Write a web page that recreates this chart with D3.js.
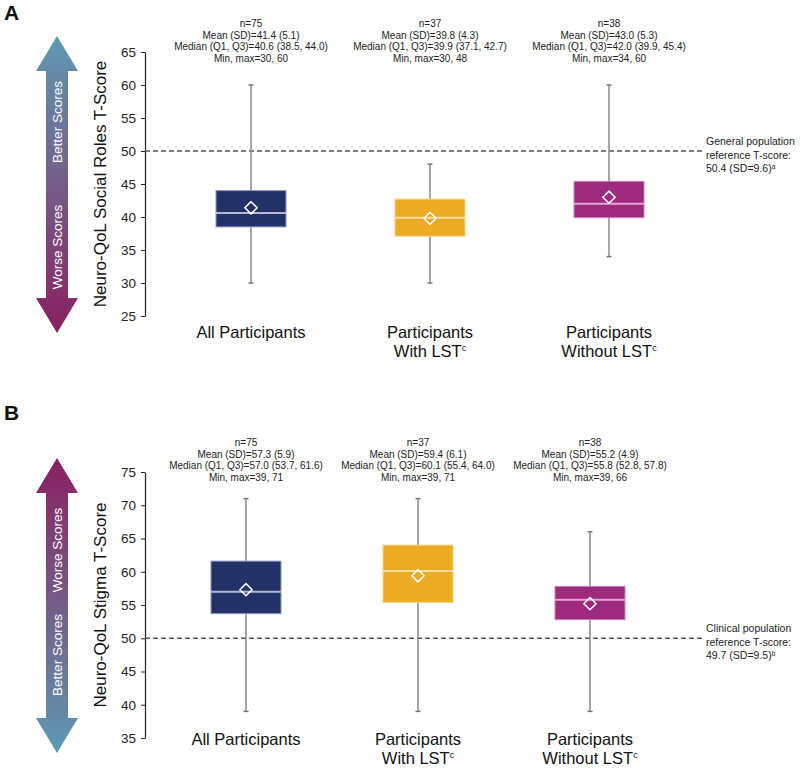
<!DOCTYPE html>
<html><head><meta charset="utf-8">
<script src="https://cdn.jsdelivr.net/npm/d3@7"></script>
<style>body{margin:0;background:#fff;} svg{display:block;font-family:"Liberation Sans",Arial,sans-serif;}</style>
</head><body>
<svg id="chart" width="800" height="771"></svg>
<script>
// ---------- data ----------
const groupLine1 = ["All Participants", "Participants", "Participants"];
const groupLine2 = ["", "With LST", "Without LST"];
const groupSup = ["", "c", "c"];
const boxColors = ["#233266", "#ebab22", "#9d2a7c"];
const medianColors = ["#b4b9d2", "#f7dfa4", "#e3a6d3"];
const borderColors = ["#8f97bd", "#f3cf80", "#cf7fbd"];

const socialN = [75, 37, 38];
const socialMean = [41.4, 39.8, 43.0];
const socialSD = [5.1, 4.3, 5.3];
const socialMedian = [40.6, 39.9, 42.0];
const socialQ1 = [38.5, 37.1, 39.9];
const socialQ3 = [44.0, 42.7, 45.4];
const socialMin = [30, 30, 34];
const socialMax = [60, 48, 60];
const socialTicks = [25, 30, 35, 40, 45, 50, 55, 60, 65];
const socialRef = 50;
const socialRefText = ["General population", "reference T-score:", "50.4 (SD=9.6)"];
const socialRefSup = "a";

const stigmaN = [75, 37, 38];
const stigmaMean = [57.3, 59.4, 55.2];
const stigmaSD = [5.9, 6.1, 4.9];
const stigmaMedian = [57.0, 60.1, 55.8];
const stigmaQ1 = [53.7, 55.4, 52.8];
const stigmaQ3 = [61.6, 64.0, 57.8];
const stigmaMin = [39, 39, 39];
const stigmaMax = [71, 71, 66];
const stigmaTicks = [35, 40, 45, 50, 55, 60, 65, 70, 75];
const stigmaRef = 50;
const stigmaRefText = ["Clinical population", "reference T-score:", "49.7 (SD=9.5)"];
const stigmaRefSup = "b";

// ---------- drawing ----------
const svg = d3.select("#chart");
const defs = svg.append("defs");
function grad(id, c1, c2) {
  const g = defs.append("linearGradient").attr("id", id).attr("x1", 0).attr("y1", 0).attr("x2", 0).attr("y2", 1);
  g.append("stop").attr("offset", "0%").attr("stop-color", c1);
  g.append("stop").attr("offset", "100%").attr("stop-color", c2);
}
grad("gA", "#5f9ab2", "#8a1f60");
grad("gB", "#8a1f60", "#5f9ab2");

const panels = [
  {label: "A", labelY: 20, title: "Neuro-QoL Social Roles T-Score",
   n: socialN, mean: socialMean, sd: socialSD, median: socialMedian, q1: socialQ1, q3: socialQ3, min: socialMin, max: socialMax,
   ticks: socialTicks, ref: socialRef, refText: socialRefText, refSup: socialRefSup,
   yRange: [316, 52], xRange: [251, 609], headerY: 27, catY: 338,
   arrow: {top: 36, bottom: 333, grad: "gA", topText: "Better Scores", botText: "Worse Scores", topTextY: 122, botTextY: 247}},
  {label: "B", labelY: 420, title: "Neuro-QoL Stigma T-Score",
   n: stigmaN, mean: stigmaMean, sd: stigmaSD, median: stigmaMedian, q1: stigmaQ1, q3: stigmaQ3, min: stigmaMin, max: stigmaMax,
   ticks: stigmaTicks, ref: stigmaRef, refText: stigmaRefText, refSup: stigmaRefSup,
   yRange: [738, 472], xRange: [246, 590], headerY: 446, catY: 745,
   arrow: {top: 458, bottom: 753, grad: "gB", topText: "Worse Scores", botText: "Better Scores", topTextY: 550, botTextY: 655}}
];

const axisX = 145;
const boxW = 70;
const fmt = d3.format(".1f");

panels.forEach(p => {
  const g = svg.append("g");
  const idx = d3.range(groupLine1.length);
  const y = d3.scaleLinear().domain(d3.extent(p.ticks)).range(p.yRange);
  const x = d3.scalePoint().domain(idx).range(p.xRange);

  // panel letter
  g.append("text").attr("x", 4).attr("y", p.labelY).attr("font-size", 21).attr("font-weight", "bold").attr("fill", "#111").text(p.label);

  // arrow
  const a = p.arrow, cx = 57, hw = 21, sw = 11, hh = 35;
  const path = d3.path();
  path.moveTo(cx, a.top);
  path.lineTo(cx + hw, a.top + hh);
  path.lineTo(cx + sw, a.top + hh);
  path.lineTo(cx + sw, a.bottom - hh);
  path.lineTo(cx + hw, a.bottom - hh);
  path.lineTo(cx, a.bottom);
  path.lineTo(cx - hw, a.bottom - hh);
  path.lineTo(cx - sw, a.bottom - hh);
  path.lineTo(cx - sw, a.top + hh);
  path.lineTo(cx - hw, a.top + hh);
  path.closePath();
  g.append("path").attr("d", path.toString()).attr("fill", `url(#${a.grad})`);
  [[a.topText, a.topTextY], [a.botText, a.botTextY]].forEach(([t, ty]) => {
    g.append("text").attr("transform", `translate(${cx + 5},${ty}) rotate(-90)`)
      .attr("text-anchor", "middle").attr("font-size", 13.5).attr("fill", "#fff").text(t);
  });

  // y axis
  const axis = d3.axisLeft(y).tickValues(p.ticks).tickSize(4).tickSizeOuter(0).tickFormat(d3.format("d"));
  const ag = g.append("g").attr("transform", `translate(${axisX},0)`).call(axis);
  ag.select(".domain").attr("stroke", "#222").attr("stroke-width", 1.2);
  ag.selectAll(".tick line").attr("stroke", "#222");
  ag.selectAll(".tick text").attr("font-size", 13.5).attr("fill", "#222").attr("font-family", "Liberation Sans, Arial, sans-serif").attr("x", -9);

  // y title
  const ym = (p.yRange[0] + p.yRange[1]) / 2;
  g.append("text").attr("transform", `translate(106,${ym}) rotate(-90)`).attr("text-anchor", "middle")
    .attr("font-size", 17).attr("fill", "#111").text(p.title);

  // reference line
  g.append("line").attr("x1", axisX).attr("x2", 703).attr("y1", y(p.ref)).attr("y2", y(p.ref))
    .attr("stroke", "#555").attr("stroke-width", 1.3).attr("stroke-dasharray", "5,3");
  const rt = g.append("text").attr("font-size", 10.5).attr("fill", "#222");
  p.refText.forEach((t, i) => {
    rt.append("tspan").attr("x", 706).attr("y", y(p.ref) - 6 + i * 13.5).text(t);
    if (i === p.refText.length - 1) {
      rt.append("tspan").attr("font-size", 6.5).attr("dy", -3).text(p.refSup);
    }
  });

  // boxes
  idx.forEach(i => {
    const cx = x(i);
    const lines = [
      `n=${p.n[i]}`,
      `Mean (SD)=${fmt(p.mean[i])} (${fmt(p.sd[i])})`,
      `Median (Q1, Q3)=${fmt(p.median[i])} (${fmt(p.q1[i])}, ${fmt(p.q3[i])})`,
      `Min, max=${p.min[i]}, ${p.max[i]}`
    ];
    lines.forEach((t, k) => {
      g.append("text").attr("x", cx).attr("y", p.headerY + k * 11.7).attr("text-anchor", "middle")
        .attr("font-size", 10).attr("fill", "#222").text(t);
    });
    g.append("line").attr("x1", cx).attr("x2", cx).attr("y1", y(p.max[i])).attr("y2", y(p.min[i]))
      .attr("stroke", "#8a8a8a").attr("stroke-width", 1.5);
    [p.max[i], p.min[i]].forEach(v => {
      g.append("line").attr("x1", cx - 2.5).attr("x2", cx + 2.5).attr("y1", y(v)).attr("y2", y(v))
        .attr("stroke", "#777").attr("stroke-width", 1.5);
    });
    g.append("rect").attr("x", cx - boxW / 2).attr("width", boxW).attr("y", y(p.q3[i])).attr("height", y(p.q1[i]) - y(p.q3[i]))
      .attr("fill", boxColors[i]).attr("stroke", borderColors[i]).attr("stroke-width", 1);
    g.append("line").attr("x1", cx - boxW / 2).attr("x2", cx + boxW / 2).attr("y1", y(p.median[i])).attr("y2", y(p.median[i]))
      .attr("stroke", medianColors[i]).attr("stroke-width", 2);
    g.append("path").attr("d", d3.symbol(d3.symbolDiamond2, 95)())
      .attr("transform", `translate(${cx},${y(p.mean[i])})`)
      .attr("fill", "none").attr("stroke", "#fff").attr("stroke-width", 1.5);
    const cl = g.append("text").attr("text-anchor", "middle").attr("font-size", 16.5).attr("fill", "#111");
    cl.append("tspan").attr("x", cx).attr("y", p.catY).text(groupLine1[i]);
    if (groupLine2[i]) {
      cl.append("tspan").attr("x", cx).attr("y", p.catY + 19).text(groupLine2[i]);
      cl.append("tspan").attr("font-size", 9).attr("dy", -6).text(groupSup[i]);
    }
  });
});
</script>
</body></html>
